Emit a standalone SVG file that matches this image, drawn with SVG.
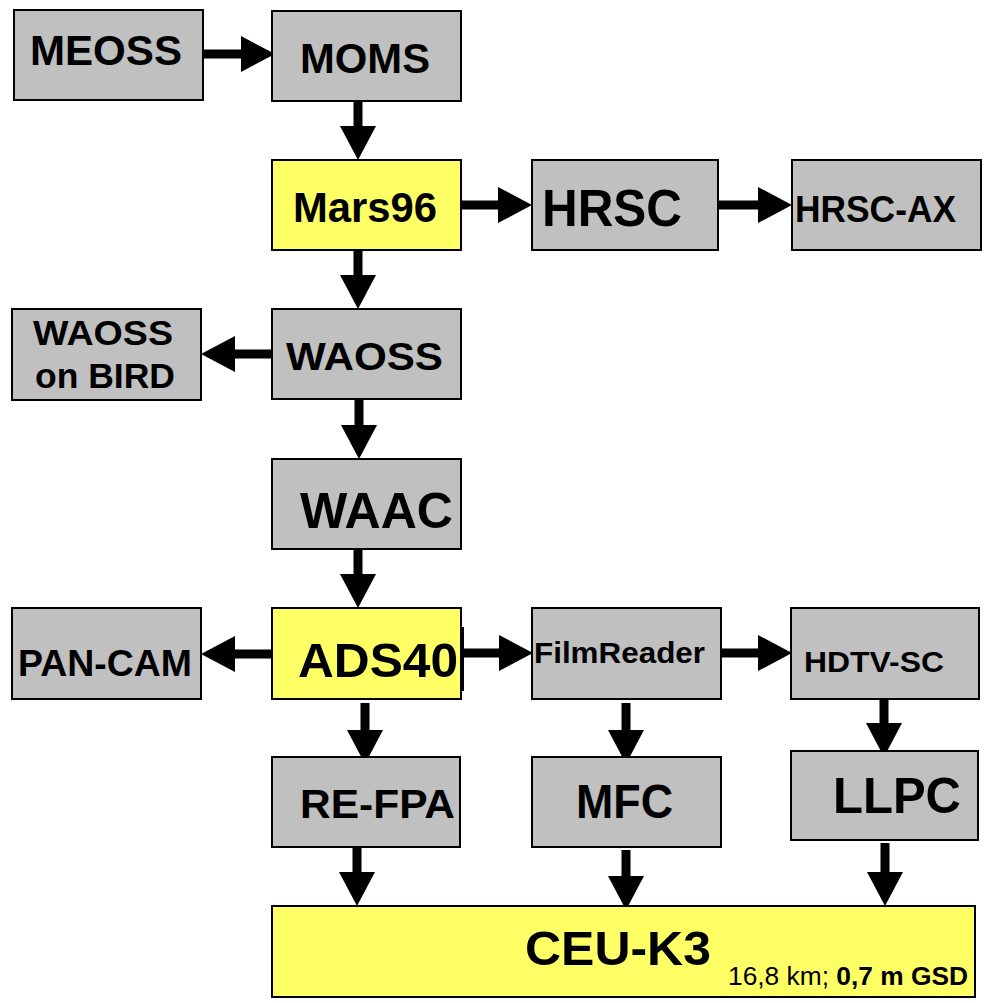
<svg xmlns="http://www.w3.org/2000/svg" width="986" height="1003" viewBox="0 0 986 1003">
<style>
.box{fill:#C0C0C0;stroke:#000;stroke-width:2}
.yel{fill:#FFFF66;stroke:#000;stroke-width:2}
.t{font-family:"Liberation Sans",Arial,Helvetica,sans-serif;font-weight:bold;fill:#000}
.c{stroke:#000;stroke-width:9;fill:none;marker-end:url(#ah)}
</style>
<defs>
<marker id="ah" markerUnits="userSpaceOnUse" markerWidth="34" markerHeight="36" refX="0" refY="18" orient="auto" viewBox="0 0 34 36">
<path d="M0,0 L34,18 L0,36 Z" fill="#000"/>
</marker>
</defs>
<rect width="986" height="1003" fill="#fff"/>
<g id="connectors">
<line class="c" x1="203" y1="54" x2="241" y2="54"/>
<line class="c" x1="358" y1="101" x2="358" y2="126"/>
<line class="c" x1="461" y1="205" x2="498" y2="205"/>
<line class="c" x1="718" y1="205" x2="758" y2="205"/>
<line class="c" x1="358" y1="250" x2="358" y2="275"/>
<line class="c" x1="272" y1="354" x2="235" y2="354"/>
<line class="c" x1="359" y1="399" x2="359" y2="425"/>
<line class="c" x1="358" y1="549" x2="358" y2="574"/>
<line class="c" x1="272" y1="654" x2="235" y2="654"/>
<line class="c" x1="461" y1="653" x2="499" y2="653"/>
<line class="c" x1="721" y1="653" x2="758" y2="653"/>
<line class="c" x1="365" y1="703" x2="365" y2="730"/>
<line class="c" x1="626" y1="703" x2="626" y2="730"/>
<line class="c" x1="884" y1="697" x2="884" y2="723"/>
<line class="c" x1="357" y1="847" x2="357" y2="872"/>
<line class="c" x1="626" y1="850" x2="626" y2="876"/>
<line class="c" x1="885" y1="843" x2="885" y2="872"/>
</g>
<g id="MEOSS"><rect class="box" x="14" y="10" width="189" height="90"/><text class="t" x="30" y="65" font-size="42" textLength="152" lengthAdjust="spacingAndGlyphs">MEOSS</text></g>
<g id="MOMS"><rect class="box" x="272" y="11" width="189" height="90"/><text class="t" x="300" y="73" font-size="42" textLength="130" lengthAdjust="spacingAndGlyphs">MOMS</text></g>
<g id="Mars96"><rect class="yel" x="272" y="160" width="189" height="90"/><text class="t" x="293" y="222" font-size="43" textLength="144" lengthAdjust="spacingAndGlyphs">Mars96</text></g>
<g id="HRSC"><rect class="box" x="532" y="160" width="186" height="90"/><text class="t" x="542" y="226" font-size="52" textLength="140" lengthAdjust="spacingAndGlyphs">HRSC</text></g>
<g id="HRSC-AX"><rect class="box" x="792" y="160" width="189" height="90"/><text class="t" x="795" y="222" font-size="37" textLength="161" lengthAdjust="spacingAndGlyphs">HRSC-AX</text></g>
<g id="WAOSS-on-BIRD"><rect class="box" x="12" y="309" width="189" height="91"/><text class="t" x="33" y="345" font-size="35" textLength="140" lengthAdjust="spacingAndGlyphs">WAOSS</text><text class="t" x="35" y="388" font-size="35" textLength="140" lengthAdjust="spacingAndGlyphs">on BIRD</text></g>
<g id="WAOSS"><rect class="box" x="272" y="309" width="189" height="90"/><text class="t" x="286" y="370" font-size="39" textLength="157" lengthAdjust="spacingAndGlyphs">WAOSS</text></g>
<g id="WAAC"><rect class="box" x="272" y="459" width="189" height="90"/><text class="t" x="300" y="528" font-size="50" textLength="153" lengthAdjust="spacingAndGlyphs">WAAC</text></g>
<g id="PAN-CAM"><rect class="box" x="12" y="608" width="189" height="91"/><text class="t" x="18" y="676" font-size="37" textLength="174" lengthAdjust="spacingAndGlyphs">PAN-CAM</text></g>
<g id="ADS40"><rect class="yel" x="272" y="608" width="189" height="91"/><line x1="463" y1="627" x2="463" y2="691" stroke="#000" stroke-width="2"/><text class="t" x="298" y="677" font-size="48" textLength="160" lengthAdjust="spacingAndGlyphs">ADS40</text></g>
<g id="FilmReader"><rect class="box" x="532" y="608" width="189" height="91"/><text class="t" x="534" y="663" font-size="30" textLength="171" lengthAdjust="spacingAndGlyphs">FilmReader</text></g>
<g id="HDTV-SC"><rect class="box" x="791" y="608" width="188" height="91"/><text class="t" x="804" y="672" font-size="29" textLength="140" lengthAdjust="spacingAndGlyphs">HDTV-SC</text></g>
<g id="RE-FPA"><rect class="box" x="272" y="757" width="188" height="90"/><text class="t" x="300" y="818" font-size="40" textLength="155" lengthAdjust="spacingAndGlyphs">RE-FPA</text></g>
<g id="MFC"><rect class="box" x="532" y="757" width="189" height="90"/><text class="t" x="576" y="818" font-size="48" textLength="97" lengthAdjust="spacingAndGlyphs">MFC</text></g>
<g id="LLPC"><rect class="box" x="791" y="751" width="187" height="89"/><text class="t" x="833" y="813" font-size="50" textLength="128" lengthAdjust="spacingAndGlyphs">LLPC</text></g>
<g id="CEU-K3"><rect class="yel" x="272" y="906" width="703" height="91"/><text class="t" x="525" y="965" font-size="49" textLength="186" lengthAdjust="spacingAndGlyphs">CEU-K3</text><text class="t" x="728" y="985" font-size="26" style="font-weight:normal" textLength="240" lengthAdjust="spacingAndGlyphs">16,8 km; <tspan style="font-weight:bold">0,7 m GSD</tspan></text></g>
</svg>
